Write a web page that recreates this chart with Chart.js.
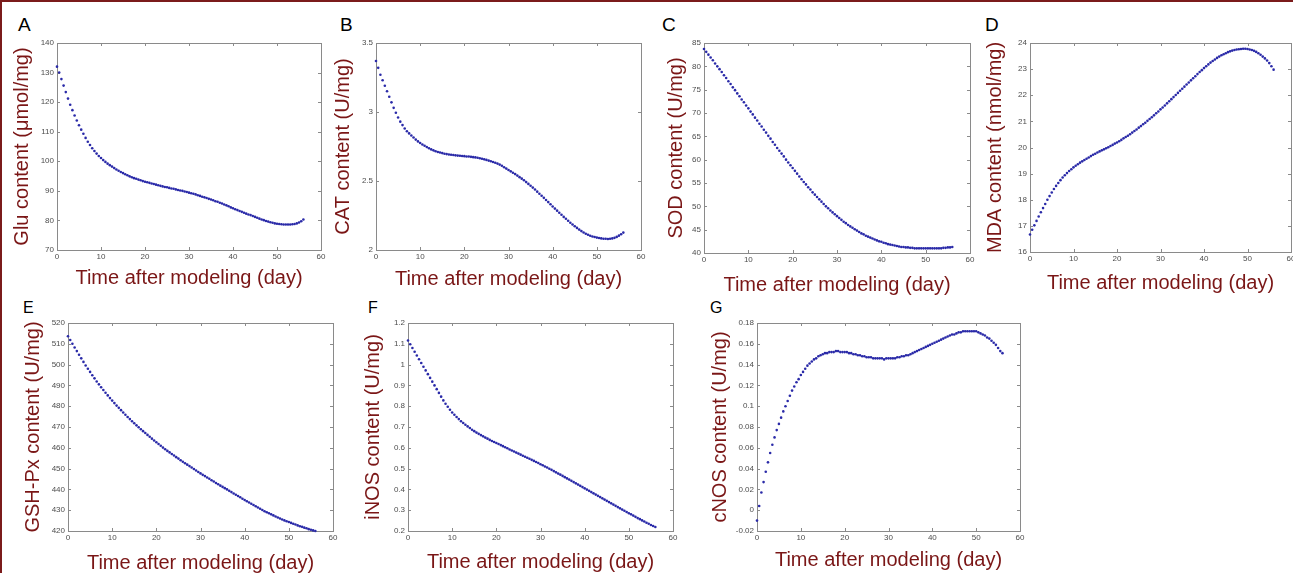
<!DOCTYPE html>
<html>
<head>
<meta charset="utf-8">
<script src="https://cdn.jsdelivr.net/npm/chart.js@4.4.1/dist/chart.umd.min.js"></script>
<style>
  html, body { margin: 0; padding: 0; background: #fff; overflow: hidden; }
  body { width: 1293px; height: 573px; position: relative; font-family: "Liberation Sans", Arial, sans-serif; }
  .box { position: absolute; }
  .letter { position: absolute; color: #000; line-height: 1; }
  .top { font-size: 19px; }
  .bot { font-size: 16px; }
  #frameTop { position: absolute; left: 0; top: 0; width: 1293px; height: 2px; background: #7b1b1b; }
  #frameLeft { position: absolute; left: 0; top: 0; width: 2px; height: 573px; background: #7b1b1b; }
</style>
</head>
<body>
<div id="frameTop"></div>
<div id="frameLeft"></div>

<div class="letter top" style="left:18px;top:15px">A</div>
<div class="letter top" style="left:340px;top:15px">B</div>
<div class="letter top" style="left:662px;top:15px">C</div>
<div class="letter top" style="left:985px;top:15px">D</div>
<div class="letter bot" style="left:23px;top:300px">E</div>
<div class="letter bot" style="left:368px;top:300px">F</div>
<div class="letter bot" style="left:710px;top:300px">G</div>

<div class="box" style="left:8px;top:33px;width:325px;height:257px"><canvas id="chartA"></canvas></div>
<div class="box" style="left:329px;top:33px;width:324px;height:258px"><canvas id="chartB"></canvas></div>
<div class="box" style="left:662px;top:33px;width:320px;height:264px"><canvas id="chartC"></canvas></div>
<div class="box" style="left:981px;top:33px;width:322px;height:262px"><canvas id="chartD"></canvas></div>
<div class="box" style="left:19px;top:313px;width:326px;height:262px"><canvas id="chartE"></canvas></div>
<div class="box" style="left:359px;top:313px;width:326px;height:261px"><canvas id="chartF"></canvas></div>
<div class="box" style="left:706px;top:313px;width:326px;height:259px"><canvas id="chartG"></canvas></div>

<script>
// time axis (days), shared by all panels
var days = [0,0.5,1,1.5,2,2.5,3,3.5,4,4.5,
  5,5.5,6,6.5,7,7.5,8,8.5,9,9.5,
  10,10.5,11,11.5,12,12.5,13,13.5,14,14.5,
  15,15.5,16,16.5,17,17.5,18,18.5,19,19.5,
  20,20.5,21,21.5,22,22.5,23,23.5,24,24.5,
  25,25.5,26,26.5,27,27.5,28,28.5,29,29.5,
  30,30.5,31,31.5,32,32.5,33,33.5,34,34.5,
  35,35.5,36,36.5,37,37.5,38,38.5,39,39.5,
  40,40.5,41,41.5,42,42.5,43,43.5,44,44.5,
  45,45.5,46,46.5,47,47.5,48,48.5,49,49.5,
  50,50.5,51,51.5,52,52.5,53,53.5,54,54.5,
  55,55.5,56];

var xTicks = [0, 10, 20, 30, 40, 50, 60];

// A - Glu
var glu = [132.0,130.0,127.8,125.6,123.4,121.2,119.1,117.3,115.5,113.8,
  112.2,110.7,109.3,107.9,106.6,105.5,104.4,103.5,102.6,101.8,
  101.1,100.4,99.8,99.2,98.7,98.2,97.7,97.2,96.8,96.4,
  96.0,95.6,95.3,94.9,94.6,94.3,94.1,93.8,93.6,93.3,
  93.1,92.9,92.7,92.5,92.3,92.1,91.9,91.7,91.5,91.3,
  91.2,91.0,90.8,90.7,90.5,90.3,90.1,90.0,89.8,89.6,
  89.4,89.2,89.0,88.8,88.5,88.3,88.0,87.8,87.6,87.3,
  87.1,86.8,86.5,86.3,86.0,85.7,85.4,85.1,84.8,84.4,
  84.1,83.8,83.5,83.2,82.9,82.6,82.3,82.0,81.8,81.5,
  81.2,80.9,80.6,80.3,80.1,79.8,79.6,79.4,79.2,79.0,
  78.9,78.8,78.7,78.6,78.6,78.6,78.6,78.7,78.8,79.0,
  79.3,79.7,80.3];
var gluTicks = [70, 80, 90, 100, 110, 120, 130, 140];

// B - CAT
var cat = [3.37,3.32,3.27,3.23,3.19,3.15,3.11,3.07,3.03,2.995,
  2.96,2.93,2.905,2.88,2.86,2.845,2.83,2.815,2.80,2.787,
  2.775,2.765,2.755,2.746,2.737,2.729,2.722,2.716,2.710,2.706,
  2.702,2.698,2.695,2.692,2.690,2.688,2.686,2.684,2.683,2.681,
  2.680,2.678,2.677,2.675,2.673,2.671,2.668,2.665,2.661,2.657,
  2.653,2.648,2.643,2.638,2.632,2.626,2.619,2.610,2.600,2.590,
  2.580,2.570,2.560,2.550,2.539,2.528,2.517,2.505,2.492,2.479,
  2.466,2.452,2.438,2.423,2.408,2.393,2.378,2.362,2.347,2.331,
  2.315,2.300,2.285,2.270,2.255,2.240,2.226,2.212,2.198,2.185,
  2.172,2.160,2.148,2.137,2.127,2.118,2.110,2.103,2.098,2.094,
  2.090,2.087,2.084,2.082,2.081,2.080,2.081,2.084,2.088,2.095,
  2.104,2.114,2.126];
var catTicks = [2, 2.5, 3, 3.5];

// C - SOD
var sod = [83.7,83.1,82.5,81.9,81.3,80.6,80.0,79.4,78.8,78.1,
  77.5,76.8,76.2,75.5,74.9,74.2,73.6,72.9,72.3,71.6,
  71.0,70.3,69.7,69.0,68.4,67.7,67.1,66.4,65.8,65.1,
  64.5,63.8,63.2,62.5,61.9,61.3,60.7,60.0,59.4,58.8,
  58.2,57.6,57.0,56.4,55.8,55.2,54.7,54.1,53.6,53.0,
  52.5,52.0,51.5,51.0,50.5,50.0,49.6,49.1,48.7,48.3,
  47.9,47.5,47.1,46.7,46.4,46.0,45.7,45.4,45.1,44.8,
  44.5,44.2,44.0,43.7,43.5,43.3,43.1,42.9,42.7,42.5,
  42.4,42.2,42.1,41.9,41.8,41.7,41.6,41.5,41.4,41.3,
  41.3,41.2,41.2,41.1,41.1,41.0,41.0,41.0,41.0,41.0,
  41.0,41.0,41.0,41.0,41.0,41.0,41.0,41.0,41.1,41.1,
  41.2,41.2,41.3];
var sodTicks = [40, 45, 50, 55, 60, 65, 70, 75, 80, 85];

// D - MDA
var mda = [16.67,16.85,17.02,17.19,17.36,17.52,17.68,17.84,18.00,18.14,
  18.28,18.41,18.53,18.64,18.75,18.85,18.94,19.02,19.10,19.17,
  19.24,19.30,19.36,19.42,19.47,19.52,19.57,19.62,19.67,19.72,
  19.76,19.81,19.85,19.89,19.93,19.97,20.01,20.06,20.10,20.15,
  20.19,20.24,20.29,20.35,20.40,20.45,20.51,20.57,20.63,20.69,
  20.76,20.82,20.89,20.95,21.02,21.09,21.16,21.23,21.31,21.38,
  21.46,21.53,21.61,21.69,21.77,21.85,21.93,22.01,22.09,22.17,
  22.25,22.33,22.41,22.49,22.57,22.65,22.73,22.81,22.89,22.96,
  23.04,23.11,23.18,23.25,23.31,23.37,23.43,23.48,23.53,23.57,
  23.61,23.65,23.68,23.71,23.73,23.75,23.76,23.77,23.78,23.78,
  23.77,23.75,23.73,23.70,23.66,23.61,23.55,23.48,23.41,23.33,
  23.23,23.11,22.98];
var mdaTicks = [16, 17, 18, 19, 20, 21, 22, 23, 24];

// E - GSH-Px
var gsh = [513.6,511.8,510.0,508.2,506.5,504.7,503.0,501.3,499.6,498.0,
  496.5,494.9,493.4,491.9,490.5,489.1,487.8,486.5,485.2,483.9,
  482.7,481.5,480.3,479.2,478.1,477.0,475.9,474.8,473.8,472.8,
  471.8,470.8,469.9,468.9,468.0,467.1,466.2,465.3,464.4,463.5,
  462.7,461.8,461.0,460.1,459.3,458.5,457.8,457.0,456.3,455.5,
  454.8,454.0,453.3,452.6,451.9,451.2,450.5,449.8,449.1,448.4,
  447.7,447.0,446.4,445.7,445.1,444.4,443.8,443.1,442.5,441.8,
  441.2,440.6,440.0,439.3,438.7,438.0,437.4,436.8,436.2,435.5,
  434.9,434.3,433.7,433.1,432.5,431.9,431.3,430.7,430.1,429.5,
  429.0,428.5,428.0,427.5,427.0,426.5,426.0,425.5,425.1,424.7,
  424.3,423.9,423.5,423.1,422.7,422.3,422.0,421.6,421.3,420.9,
  420.6,420.3,420.0];
var gshTicks = [420, 430, 440, 450, 460, 470, 480, 490, 500, 510, 520];

// F - iNOS
var inos = [1.116,1.098,1.080,1.062,1.044,1.026,1.008,0.990,0.972,0.954,
  0.936,0.918,0.900,0.882,0.864,0.846,0.828,0.812,0.797,0.783,
  0.770,0.759,0.748,0.738,0.728,0.719,0.711,0.703,0.695,0.687,
  0.680,0.673,0.667,0.661,0.655,0.649,0.644,0.638,0.633,0.628,
  0.623,0.618,0.613,0.608,0.603,0.598,0.592,0.587,0.582,0.577,
  0.572,0.567,0.562,0.557,0.552,0.547,0.542,0.537,0.532,0.527,
  0.521,0.516,0.510,0.505,0.499,0.494,0.488,0.482,0.476,0.471,
  0.465,0.459,0.453,0.447,0.441,0.435,0.429,0.423,0.417,0.411,
  0.405,0.399,0.393,0.387,0.381,0.375,0.369,0.363,0.357,0.351,
  0.345,0.339,0.333,0.327,0.321,0.315,0.309,0.303,0.297,0.291,
  0.285,0.280,0.274,0.268,0.262,0.257,0.251,0.246,0.240,0.235,
  0.229,0.224,0.219];
var inosTicks = [0.2, 0.3, 0.4, 0.5, 0.6, 0.7, 0.8, 0.9, 1, 1.1, 1.2];

// G - cNOS
var cnos = [-0.010,0.004,0.017,0.027,0.037,0.046,0.055,0.063,0.070,0.077,
  0.083,0.089,0.095,0.100,0.105,0.110,0.115,0.119,0.123,0.126,
  0.130,0.133,0.136,0.139,0.141,0.143,0.145,0.146,0.148,0.149,
  0.150,0.151,0.151,0.152,0.152,0.152,0.153,0.153,0.152,0.152,
  0.152,0.152,0.151,0.151,0.150,0.150,0.149,0.149,0.148,0.148,
  0.147,0.147,0.147,0.146,0.146,0.146,0.146,0.146,0.145,0.146,
  0.146,0.146,0.146,0.146,0.147,0.147,0.148,0.148,0.149,0.149,
  0.150,0.151,0.152,0.153,0.154,0.155,0.156,0.157,0.158,0.159,
  0.160,0.161,0.162,0.163,0.164,0.165,0.166,0.167,0.168,0.169,
  0.169,0.170,0.171,0.171,0.172,0.172,0.172,0.172,0.172,0.172,
  0.172,0.171,0.170,0.169,0.168,0.166,0.165,0.163,0.161,0.159,
  0.156,0.153,0.151];
var cnosTicks = [-0.02, 0, 0.02, 0.04, 0.06, 0.08, 0.1, 0.12, 0.14, 0.16, 0.18];

var titleRed = "rgb(122, 22, 22)";
var tickGrey = "#4d4d4d";
var boxGrey = "#8a8a8a";
var dotBlue = "#2a2aa8";
var fontFam = "'Liberation Sans', Arial, sans-serif";

// matlab style box with inward ticks on all four sides
var boxPlugin = {
  id: 'matBox',
  beforeDatasetsDraw: function(chart) {
    var c = chart.ctx, a = chart.chartArea;
    var sx = chart.scales.x, sy = chart.scales.y;
    c.save();
    c.strokeStyle = boxGrey;
    c.lineWidth = 1;
    c.strokeRect(Math.round(a.left) + 0.5, Math.round(a.top) + 0.5,
                 Math.round(a.right - a.left), Math.round(a.bottom - a.top));
    c.beginPath();
    sx.ticks.forEach(function(t) {
      var px = Math.round(sx.getPixelForValue(t.value)) + 0.5;
      c.moveTo(px, a.bottom); c.lineTo(px, a.bottom - 3);
      c.moveTo(px, a.top); c.lineTo(px, a.top + 3);
    });
    sy.ticks.forEach(function(t) {
      var py = Math.round(sy.getPixelForValue(t.value)) + 0.5;
      c.moveTo(a.left, py); c.lineTo(a.left + 3, py);
      c.moveTo(a.right, py); c.lineTo(a.right - 3, py);
    });
    c.stroke();
    c.restore();
  }
};

function fmt(v) {
  return String(Number(v.toFixed(4)));
}

function makePanel(id, values, yTicks, yTitle, yW, xH) {
  var ctx = document.getElementById(id).getContext('2d');
  var pts = values.map(function(v, i) { return {x: days[i], y: v}; });
  return new Chart(ctx, {
    type: 'scatter',
    data: {
      datasets: [{
        data: pts,
        pointRadius: 1.3,
        pointBorderWidth: 0,
        pointBackgroundColor: dotBlue,
        pointBorderColor: dotBlue,
        showLine: false,
        clip: false
      }]
    },
    plugins: [boxPlugin],
    options: {
      responsive: true,
      maintainAspectRatio: false,
      animation: false,
      layout: { padding: { left: 0, top: 10, right: 12, bottom: 0 } },
      plugins: {
        legend: { display: false },
        tooltip: { enabled: false }
      },
      scales: {
        x: {
          type: 'linear',
          min: xTicks[0],
          max: xTicks[xTicks.length - 1],
          afterBuildTicks: function(s) { s.ticks = xTicks.map(function(v) { return {value: v}; }); },
          afterFit: function(s) { s.height = xH; s.paddingLeft = 0; s.paddingRight = 0; },
          grid: { display: false, drawTicks: false },
          border: { display: false },
          ticks: {
            color: tickGrey,
            padding: 2,
            maxRotation: 0,
            font: { family: fontFam, size: 8 },
            callback: function(v) { return fmt(v); }
          },
          title: {
            display: true,
            text: 'Time after modeling (day)',
            color: titleRed,
            font: { family: fontFam, size: 20, lineHeight: 1.2 },
            padding: { top: 0, bottom: 0 }
          }
        },
        y: {
          type: 'linear',
          min: yTicks[0],
          max: yTicks[yTicks.length - 1],
          afterBuildTicks: function(s) { s.ticks = yTicks.map(function(v) { return {value: v}; }); },
          afterFit: function(s) { s.width = yW; s.paddingTop = 0; s.paddingBottom = 0; },
          grid: { display: false, drawTicks: false },
          border: { display: false },
          ticks: {
            color: tickGrey,
            padding: 3,
            font: { family: fontFam, size: 8 },
            callback: function(v) { return fmt(v); }
          },
          title: {
            display: true,
            text: yTitle,
            color: titleRed,
            font: { family: fontFam, size: 20, lineHeight: 1.2 },
            padding: { top: 2, bottom: 0 }
          }
        }
      }
    }
  });
}

makePanel('chartA', glu, gluTicks, 'Glu content (\u03bcmol/mg)', 49, 40);
makePanel('chartB', cat, catTicks, 'CAT content (U/mg)', 47, 41);
makePanel('chartC', sod, sodTicks, 'SOD content (U/mg)', 42, 44);
makePanel('chartD', mda, mdaTicks, 'MDA content (nmol/mg)', 49, 43);
makePanel('chartE', gsh, gshTicks, 'GSH-Px content (U/mg)', 49, 44);
makePanel('chartF', inos, inosTicks, 'iNOS content (U/mg)', 49, 43);
makePanel('chartG', cnos, cnosTicks, 'cNOS content (U/mg)', 51, 41);
</script>
</body>
</html>
